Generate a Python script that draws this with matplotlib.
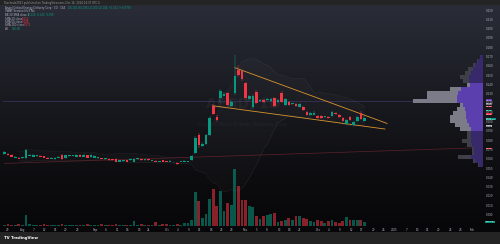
import matplotlib
matplotlib.use("Agg")
import matplotlib.pyplot as plt
import matplotlib.transforms as mtransforms
import numpy as np
import pandas as pd

W, H = 500, 244

# daily candles, Jul 25 - Dec 16 2024 (price in CAD)
opens = [0.065, 0.065, 0.064, 0.061, 0.061, 0.061, 0.061, 0.063, 0.062, 0.063,
         0.063, 0.063, 0.061, 0.060, 0.060, 0.061, 0.064, 0.061, 0.063, 0.063,
         0.062, 0.064, 0.062, 0.064, 0.062, 0.061, 0.061, 0.061, 0.060, 0.060,
         0.060, 0.060, 0.057, 0.058, 0.059, 0.059, 0.057, 0.060, 0.060, 0.059,
         0.060, 0.058, 0.058, 0.057, 0.059, 0.058, 0.056, 0.056, 0.055, 0.057,
         0.056, 0.057, 0.059, 0.066, 0.086, 0.074, 0.076, 0.086, 0.117, 0.105,
         0.125, 0.128, 0.131, 0.117, 0.131, 0.155, 0.154, 0.142, 0.124, 0.116,
         0.132, 0.122, 0.123, 0.123, 0.122, 0.125, 0.121, 0.131, 0.118, 0.121,
         0.119, 0.119, 0.116, 0.116, 0.110, 0.107, 0.107, 0.106, 0.106, 0.105,
         0.105, 0.106, 0.109, 0.107, 0.104, 0.097, 0.105, 0.096, 0.101, 0.109,
         0.101]
highs = [0.068, 0.066, 0.065, 0.063, 0.062, 0.061, 0.070, 0.065, 0.065, 0.064,
         0.064, 0.063, 0.062, 0.062, 0.062, 0.063, 0.065, 0.064, 0.064, 0.064,
         0.065, 0.065, 0.065, 0.064, 0.065, 0.064, 0.062, 0.061, 0.060, 0.061,
         0.060, 0.061, 0.059, 0.059, 0.059, 0.061, 0.061, 0.061, 0.061, 0.060,
         0.060, 0.059, 0.059, 0.058, 0.059, 0.058, 0.059, 0.057, 0.056, 0.057,
         0.059, 0.058, 0.064, 0.085, 0.088, 0.078, 0.087, 0.106, 0.119, 0.107,
         0.135, 0.132, 0.132, 0.123, 0.172, 0.161, 0.156, 0.143, 0.129, 0.130,
         0.134, 0.124, 0.124, 0.125, 0.125, 0.126, 0.124, 0.133, 0.125, 0.122,
         0.120, 0.120, 0.120, 0.117, 0.111, 0.110, 0.111, 0.107, 0.107, 0.106,
         0.106, 0.111, 0.110, 0.108, 0.105, 0.103, 0.106, 0.101, 0.106, 0.111,
         0.106]
lows = [0.064, 0.063, 0.062, 0.061, 0.060, 0.060, 0.060, 0.063, 0.062, 0.062,
        0.062, 0.061, 0.060, 0.060, 0.059, 0.061, 0.059, 0.060, 0.062, 0.063,
        0.062, 0.062, 0.062, 0.061, 0.061, 0.061, 0.060, 0.060, 0.059, 0.058,
        0.058, 0.056, 0.057, 0.057, 0.057, 0.058, 0.057, 0.059, 0.058, 0.058,
        0.058, 0.058, 0.056, 0.057, 0.057, 0.056, 0.056, 0.055, 0.053, 0.056,
        0.056, 0.056, 0.058, 0.065, 0.072, 0.073, 0.075, 0.085, 0.107, 0.100,
        0.120, 0.127, 0.116, 0.116, 0.129, 0.148, 0.144, 0.123, 0.122, 0.114,
        0.119, 0.121, 0.120, 0.122, 0.121, 0.116, 0.120, 0.120, 0.117, 0.117,
        0.118, 0.116, 0.115, 0.111, 0.106, 0.106, 0.107, 0.103, 0.103, 0.104,
        0.103, 0.105, 0.107, 0.104, 0.100, 0.096, 0.101, 0.095, 0.100, 0.102,
        0.100]
closes = [0.067, 0.064, 0.062, 0.062, 0.060, 0.061, 0.069, 0.064, 0.064, 0.063,
          0.062, 0.061, 0.060, 0.061, 0.061, 0.062, 0.060, 0.064, 0.063, 0.063,
          0.064, 0.062, 0.064, 0.061, 0.064, 0.063, 0.061, 0.060, 0.060, 0.059,
          0.059, 0.057, 0.059, 0.058, 0.057, 0.060, 0.060, 0.060, 0.059, 0.059,
          0.059, 0.058, 0.056, 0.057, 0.057, 0.056, 0.058, 0.056, 0.054, 0.057,
          0.058, 0.058, 0.063, 0.082, 0.075, 0.076, 0.086, 0.104, 0.108, 0.102,
          0.133, 0.130, 0.118, 0.121, 0.149, 0.150, 0.146, 0.125, 0.127, 0.128,
          0.120, 0.123, 0.121, 0.124, 0.124, 0.117, 0.123, 0.121, 0.124, 0.118,
          0.119, 0.117, 0.119, 0.112, 0.107, 0.109, 0.109, 0.104, 0.104, 0.105,
          0.104, 0.110, 0.108, 0.105, 0.101, 0.102, 0.102, 0.100, 0.105, 0.103,
          0.104]
volume_m = [0.1, 0.2, 0.1, 0.1, 0.2, 0.1, 1.1, 0.2, 0.1, 0.1,
            0.1, 0.2, 0.1, 0.1, 0.1, 0.1, 0.2, 0.1, 0.1, 0.1,
            0.1, 0.1, 0.1, 0.2, 0.1, 0.1, 0.1, 0.2, 0.1, 0.1,
            0.1, 0.2, 0.1, 0.1, 0.1, 0.1, 0.5, 0.1, 0.2, 0.1,
            0.1, 0.1, 0.4, 0.1, 0.2, 0.2, 0.1, 0.1, 0.2, 0.1,
            0.3, 0.3, 0.6, 3.4, 2.5, 0.8, 1.2, 2.7, 3.7, 2.0,
            3.5, 1.5, 2.3, 2.1, 5.7, 4.0, 2.6, 2.6, 2.0, 1.9,
            1.0, 0.7, 1.0, 1.1, 1.2, 1.3, 0.4, 0.5, 0.6, 0.8,
            0.6, 1.0, 1.0, 0.8, 0.7, 0.5, 0.4, 0.6, 0.5, 0.3,
            0.5, 0.6, 0.4, 0.3, 0.5, 0.9, 0.6, 0.6, 0.6, 0.6,
            0.4]

# visible range volume profile (rows of price)
vp_price = [0.1695, 0.1652, 0.1609, 0.1566, 0.1523, 0.1480, 0.1437, 0.1394,
            0.1351, 0.1308, 0.1265, 0.1221, 0.1178, 0.1135, 0.1092, 0.1049,
            0.1006, 0.0963, 0.0920, 0.0877, 0.0834, 0.0791, 0.0748, 0.0705,
            0.0662, 0.0619, 0.0576, 0.0533]
vp_total = [0.3, 0.6, 1.0, 1.5, 1.8, 2.3, 2.0, 1.6, 3.3, 5.6, 5.6, 7.0, 2.3, 2.6,
            3.0, 3.3, 3.3, 2.8, 2.3, 1.6, 1.6, 2.1, 1.6, 1.1, 1.1, 2.5, 1.0, 0.5]
vp_up = [0.3, 0.5, 0.8, 1.0, 1.2, 1.4, 1.4, 1.3, 2.2, 2.5, 2.6, 2.6, 2.0, 1.8,
         1.7, 1.7, 1.6, 1.4, 1.2, 1.2, 1.2, 1.2, 1.1, 0.9, 0.9, 1.2, 0.8, 0.4]
value_area = (7, 18)

# drawings: falling wedge + long support ray
wedge_top_x, wedge_top_y = [64.0, 106.3], [0.158, 0.098]
wedge_bot_x, wedge_bot_y = [57.9, 105.7], [0.117, 0.092]
ray_x, ray_y = [0, 133], [0.055, 0.072]

# price tags on the right scale
tag_prices = [0.123, 0.119, 0.116, 0.112, 0.108, 0.095, 0.071]
tag_colors = ["#673ab7", "#787b86", "#f23645", "#089981", "#f23645", "#b2b5be", "#f23645"]
last_time = "07:22:38"

tick_pos = [1.0, 5.2, 8.2, 11.0, 14.1, 17.1, 20.2, 25.2, 28.2, 31.3, 34.3, 37.4, 39.9,
            45.2, 48.2, 51.3, 54.3, 57.4, 60.4, 63.2, 66.8, 70.2, 72.9, 76.3, 79.1,
            82.1, 87.1, 90.2, 93.2, 96.3, 99.3, 102.4, 105.2, 108.2, 111.6, 114.6,
            117.4, 120.7, 123.8, 126.8, 129.9]
tick_text = ["29", "Aug", "7", "12", "15", "20", "23", "Sep", "6", "11", "16", "19", "24",
             "Oct", "4", "9", "15", "18", "23", "28", "Nov", "5", "8", "13", "18",
             "21", "Dec", "4", "9", "12", "17", "20", "26", "2025", "7", "10",
             "15", "20", "23", "28", "Feb"]

UP, DOWN = "#089981", "#f23645"
TXT = "#b2b5be"


def fx(x):
    return x / W


def fy(y):
    return 1 - y / H


fig = plt.figure(figsize=(5, 2.44), dpi=100, facecolor="#242424")

# dark gradient pane
bg = fig.add_axes([0, fy(232), 1, 227 / H])
stops = np.array([[42, 45, 56], [26, 27, 33], [13, 13, 16], [7, 7, 9]]) / 255
t = np.linspace(0, 1, 256)
img = np.stack([np.interp(t, [0, 0.4, 0.75, 1], stops[:, k]) for k in range(3)], axis=1)
bg.imshow(img[:, None, :], aspect="auto", extent=[0, 1, 0, 1])
bg.axis("off")

ax = fig.add_axes([fx(3), fy(226), 480 / W, 221 / H])
ax.set_facecolor("none")
x = np.arange(len(closes))
ax.set_xlim(-0.39, 132.94)
ax.set_ylim(-0.0123, 0.2254)

# bollinger bands from the closes
cl = pd.Series(closes)
mid = cl.rolling(20, min_periods=5).mean()
sd = cl.rolling(20, min_periods=5).std()
ax.fill_between(x, mid - 2 * sd, mid + 2 * sd, color="white", alpha=0.02, lw=0)
ax.plot(x, mid + 2 * sd, color="white", alpha=0.08, lw=0.4)
ax.plot(x, mid - 2 * sd, color="white", alpha=0.08, lw=0.4)

ax.plot(ray_x, ray_y, color="#6e2630", lw=0.5, alpha=0.8)
poc = vp_price[int(np.argmax(vp_total))]
ax.axhline(poc, color="#4e3d85", lw=0.5, alpha=0.7)

# watermark
ax.text(0.5, 0.55, "AEGD, 1D", transform=ax.transAxes, ha="center", va="center",
        fontsize=10, color="white", alpha=0.04, fontweight="bold")
ax.text(0.5, 0.46, "Angel Critical Energy Delivery Corp", transform=ax.transAxes,
        ha="center", va="center", fontsize=3.6, color="white", alpha=0.05)

ax.plot(wedge_top_x, wedge_top_y, color="#d9952e", lw=0.6)
ax.plot(wedge_bot_x, wedge_bot_y, color="#d9952e", lw=0.6)

# candles
o, h, l, c = map(np.array, (opens, highs, lows, closes))
cols = [UP if ci >= oi else DOWN for oi, ci in zip(o, c)]
ax.vlines(x, l, h, colors=cols, lw=0.35, zorder=3)
body = np.maximum(np.abs(c - o), 0.0006)
ax.bar(x, body, bottom=np.minimum(o, c), width=0.72, color=cols, lw=0, zorder=4)

# volume overlay
axv = ax.twinx()
axv.set_ylim(0, 22.1)
axv.bar(x, volume_m, width=0.78, color=cols, alpha=0.55, lw=0)
axv.set_yticks([])
for s in axv.spines.values():
    s.set_visible(False)
axv.text(1.006, volume_m[-1], f"{volume_m[-1] * 1000:.1f}K",
         transform=mtransforms.blended_transform_factory(axv.transAxes, axv.transData),
         fontsize=1.7, color="white", va="center", ha="left", clip_on=False,
         bbox=dict(boxstyle="square,pad=0.25", fc="#089981", ec="none"))

# volume profile, anchored to the right edge
axp = ax.twiny()
axp.set_xlim(48, 0)
rh = 0.0037
for k, (py, tot, up) in enumerate(zip(vp_price, vp_total, vp_up)):
    inside = value_area[0] <= k <= value_area[1]
    axp.barh(py, tot, height=rh, color="#7c7c88" if inside else "#3f3f48", lw=0)
    axp.barh(py, up, height=rh, color="#5c3fae" if inside else "#37296a", lw=0)
axp.set_xticks([])
for s in axp.spines.values():
    s.set_visible(False)

# axes cosmetics
for s in ax.spines.values():
    s.set_visible(False)
ax.yaxis.tick_right()
ax.set_yticks(np.round(np.arange(0.0, 0.2201, 0.01), 3))
ax.yaxis.set_major_formatter(plt.FormatStrFormatter("%.3f"))
ax.tick_params(axis="y", length=0, pad=2.2, labelsize=2.0, labelcolor=TXT)
ax.set_xticks(tick_pos)
ax.set_xticklabels(tick_text)
ax.tick_params(axis="x", length=0, pad=1.2, labelsize=2.0, labelcolor=TXT)

tr = mtransforms.blended_transform_factory(ax.transAxes, ax.transData)
for p, col in zip(tag_prices, tag_colors):
    ax.text(1.006, p, f"{p:.3f}", transform=tr, fontsize=1.6,
            color="#131722" if col == "#b2b5be" else "white", va="center", ha="left",
            clip_on=False, bbox=dict(boxstyle="square,pad=0.12", fc=col, ec="none"))
ax.text(1.006, closes[-1] - 0.0012, f"{closes[-1]:.3f}\n{last_time}", transform=tr,
        fontsize=1.5, color="white", va="center", ha="left", clip_on=False, linespacing=0.95,
        bbox=dict(boxstyle="square,pad=0.12", fc=UP, ec="none"))

# header and legend
fig.text(fx(4), fy(2.6), "Stockrule2023 published on TradingView.com, Dec 16, 2024 14:37 UTC-5",
         fontsize=1.9, color="#9598a1", va="center")
legend = [
    (8, "Angel Critical Energy Delivery Corp · 1D · CSE", "O0.101 H0.106 L0.100 C0.104 +0.001 (+0.97%)", UP, 68),
    (11.5, "VWAP Session hlc3 No", "", UP, 40),
    (15, "BB 20 SMA close 2", "0.118  0.140  0.096", UP, 28),
    (18.5, "SMA 20 close", "0.112", DOWN, 22),
    (22, "SMA 50 close", "0.108", DOWN, 22),
    (25.5, "SMA 200 close", "0.071", DOWN, 24),
    (29, "Vol", "400.0K", UP, 12),
]
for yy, label, val, col, xv in legend:
    fig.text(fx(5), fy(yy), label, fontsize=1.9, color=TXT, va="center")
    if val:
        fig.text(fx(xv), fy(yy), val, fontsize=1.9, color=col, va="center")

fig.text(fx(4), fy(238), "TV TradingView", fontsize=2.8, color="white",
         fontweight="bold", va="center")

fig.savefig("out.png", dpi=100, facecolor=fig.get_facecolor())
